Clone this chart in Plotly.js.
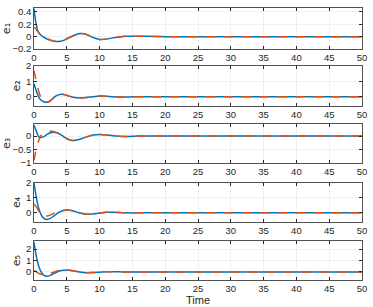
<!DOCTYPE html>
<html><head><meta charset="utf-8">
<script src="https://cdn.plot.ly/plotly-3.0.1.min.js"></script>
<style>html,body{margin:0;padding:0;background:#fff;}#c{width:373px;height:307px;}</style>
</head><body><div id="c"></div>
<script>
const t = [0,0.25,0.5,0.75,1,1.5,2,2.5,3,3.5,4,4.5,5,5.5,6,7,8,9,10,11,12,13,14,15,17,20,25,30,35,40,45,50];
const e1_blue = [0.45,0.25,0.12,0.06,0.03,-0.01,-0.04,-0.06,-0.075,-0.08,-0.075,-0.06,-0.035,-0.01,0.015,0.05,0.035,-0.015,-0.045,-0.04,-0.02,-0.005,0.005,0.008,0.005,0,0,0,0,0,0,0];
const e1_orange = [0.15,0.13,0.09,0.06,0.03,0.0,-0.03,-0.055,-0.07,-0.075,-0.072,-0.058,-0.034,-0.01,0.015,0.05,0.035,-0.015,-0.045,-0.04,-0.02,-0.005,0.005,0.008,0.005,0,0,0,0,0,0,0];
const e2_blue = [0.85,0.5,0.2,-0.05,-0.2,-0.33,-0.36,-0.26,-0.06,0.09,0.15,0.15,0.09,0.02,-0.04,-0.08,-0.06,0.0,0.04,0.03,0.0,-0.02,-0.02,-0.01,0,0,0,0,0,0,0,0];
const e2_orange = [1.7,1.2,0.7,0.3,0.0,-0.3,-0.37,-0.27,-0.07,0.09,0.15,0.15,0.09,0.02,-0.04,-0.08,-0.06,0.0,0.04,0.03,0.0,-0.02,-0.02,-0.01,0,0,0,0,0,0,0,0];
const e3_blue = [0.4,0.25,0.08,-0.03,-0.05,-0.02,0.06,0.12,0.14,0.12,0.06,-0.02,-0.1,-0.15,-0.17,-0.12,-0.03,0.04,0.06,0.04,0.01,-0.01,-0.02,-0.01,0,0,0,0,0,0,0,0];
const e3_orange = [-0.9,-0.6,-0.35,-0.15,0.0,0.12,0.18,0.19,0.17,0.12,0.05,-0.03,-0.1,-0.15,-0.17,-0.12,-0.03,0.04,0.06,0.04,0.01,-0.01,-0.02,-0.01,0,0,0,0,0,0,0,0];
const e4_blue = [2.0,1.3,0.7,0.25,-0.05,-0.38,-0.44,-0.37,-0.22,-0.05,0.08,0.16,0.19,0.17,0.12,-0.02,-0.1,-0.08,-0.02,0.03,0.04,0.02,0.0,-0.01,0,0,0,0,0,0,0,0];
const e4_orange = [0.6,0.45,0.3,0.1,-0.05,-0.2,-0.22,-0.15,-0.05,0.05,0.12,0.17,0.19,0.17,0.12,-0.02,-0.1,-0.08,-0.02,0.03,0.04,0.02,0.0,-0.01,0,0,0,0,0,0,0,0];
const e5_blue = [2.6,1.7,1.0,0.45,0.1,-0.3,-0.38,-0.3,-0.15,0.0,0.1,0.15,0.17,0.15,0.1,0.0,-0.06,-0.05,-0.02,0.01,0.02,0.01,0,0,0,0,0,0,0,0,0,0];
const e5_orange = [0.1,0.05,-0.05,-0.12,-0.2,-0.25,-0.22,-0.12,-0.02,0.08,0.14,0.17,0.17,0.15,0.1,0.0,-0.06,-0.05,-0.02,0.01,0.02,0.01,0,0,0,0,0,0,0,0,0,0];
const xTicks = [0,5,10,15,20,25,30,35,40,45,50];
const yLabels = ['e\u2081','e\u2082','e\u2083','e\u2084','e\u2085'];
const yRanges = [[-0.2,0.46],[-0.6,2],[-1,0.45],[-0.62,2],[-0.7,2.7]];
const yTicks = [[-0.2,0,0.2,0.4],[0,1,2],[-1,-0.5,0],[0,1,2],[0,1,2]];
const domains = [[0.849,1],[0.640,0.787],[0.430,0.574],[0.213,0.357],[0,0.143]];

const blues = [e1_blue,e2_blue,e3_blue,e4_blue,e5_blue];
const oranges = [e1_orange,e2_orange,e3_orange,e4_orange,e5_orange];
const traces = [];
const layout = {
  width:373, height:307, margin:{l:34,r:11,t:8,b:27},
  paper_bgcolor:'#fff', plot_bgcolor:'#fff', showlegend:false,
  font:{family:'Liberation Sans, Arial, sans-serif', size:9.5, color:'#262626'}
};
for (let i=0;i<5;i++){
  const s = i===0?'':String(i+1);
  traces.push({x:t, y:blues[i], xaxis:'x'+s, yaxis:'y'+s, mode:'lines', line:{color:'#0072BD', width:1.5, shape:'spline', smoothing:0.8}});
  traces.push({x:t, y:oranges[i], xaxis:'x'+s, yaxis:'y'+s, mode:'lines', line:{color:'#D95319', width:1.5, dash:'dash', shape:'spline', smoothing:0.8}});
  const common = {showline:true, mirror:'ticks', linecolor:'#262626', linewidth:0.8, ticks:'inside', ticklen:3, tickcolor:'#262626',
    showgrid:true, gridcolor:'#e6e6e6', gridwidth:0.6, zeroline:false, tickfont:{size:9.5, color:'#262626'}};
  layout['xaxis'+s] = Object.assign({}, common, {range:[0,50], tickvals:xTicks, anchor:'y'+s, domain:[0,1]});
  if (i===4) layout['xaxis'+s].title = {text:'Time', font:{size:11, color:'#262626'}, standoff:2};
  layout['yaxis'+s] = Object.assign({}, common, {range:yRanges[i], tickvals:yTicks[i], anchor:'x'+s, domain:domains[i],
    title:{text:yLabels[i], font:{family:'DejaVu Sans, sans-serif', size:11, color:'#262626'}, standoff:3}});
}
Plotly.newPlot('c', traces, layout, {staticPlot:true, displayModeBar:false});
</script></body></html>
